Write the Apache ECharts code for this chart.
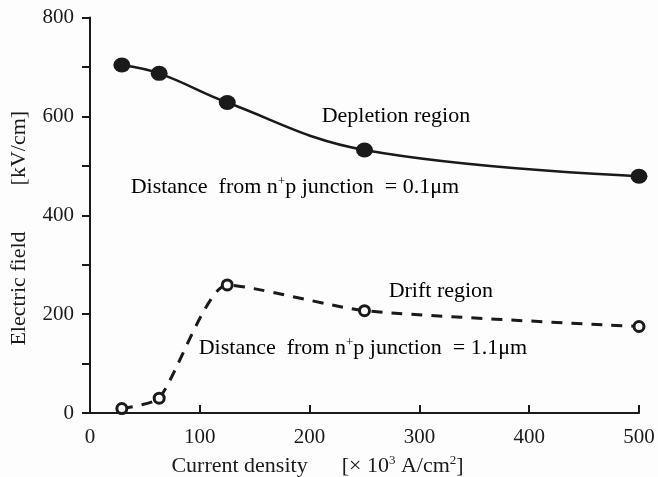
<!DOCTYPE html>
<html>
<head>
<meta charset="utf-8">
<script src="https://cdn.jsdelivr.net/npm/echarts@6/dist/echarts.min.js"></script>
<style>
html,body{margin:0;padding:0;background:#fdfdfd;}
#chart{width:658px;height:477px;}
</style>
</head>
<body>
<div id="chart"></div>
<script>
// Data
const currentDensity = [29, 63, 125, 250, 500];           // x values [×10^3 A/cm^2]
const depletionField = [704, 687, 628, 532, 479];          // kV/cm, distance 0.1 µm
const driftField = [9, 30, 259, 207, 175];                 // kV/cm, distance 1.1 µm
const xTicks = [0, 100, 200, 300, 400, 500];
const yTicks = [0, 200, 400, 600, 800];

const FONT = '"Liberation Serif", "Times New Roman", serif';
const INK = '#1a1a1a';

const chart = echarts.init(document.getElementById('chart'), null, {renderer: 'canvas'});

const supRich = {
  a: {fontFamily: FONT, fontSize: 22, color: INK, lineHeight: 26},
  s: {fontFamily: FONT, fontSize: 13, color: INK, verticalAlign: 'top', lineHeight: 26, padding: [1, 0, 0, 0]},
  g: {width: 34}
};
const yRich = {
  a: {fontFamily: FONT, fontSize: 22, color: INK, lineHeight: 26},
  g: {width: 46}
};

const option = {
  backgroundColor: '#fdfdfd',
  animation: false,
  grid: {left: 90, right: 19, top: 17.5, bottom: 64, containLabel: false, outerBoundsMode: 'none'},
  xAxis: {
    type: 'value',
    min: xTicks[0], max: xTicks[xTicks.length - 1], interval: 100,
    name: '{a|Current density}{g|}{a|[× 10}{s|3}{a| A/cm}{s|2}{a|]}',
    nameLocation: 'middle',
    nameGap: 40,
    nameTextStyle: {rich: supRich, padding: [0, 94, 0, 0]},
    axisLine: {lineStyle: {color: INK, width: 2}},
    axisTick: {inside: true, length: 8, lineStyle: {color: INK, width: 2}},
    axisLabel: {fontFamily: FONT, fontSize: 21, color: INK, margin: 14},
    splitLine: {show: false}
  },
  yAxis: {
    type: 'value',
    min: yTicks[0], max: yTicks[yTicks.length - 1], interval: 100,
    name: '{a|Electric field}{g|}{a|[kV/cm]}',
    nameLocation: 'middle',
    nameGap: 58,
    nameTextStyle: {rich: yRich, padding: [0, 26, 0, 0]},
    axisLine: {lineStyle: {color: INK, width: 2}},
    axisTick: {inside: false, length: 8, lineStyle: {color: INK, width: 2}},
    axisLabel: {
      fontFamily: FONT, fontSize: 21, color: INK, margin: 16,
      formatter: v => (yTicks.indexOf(v) >= 0 ? String(v) : '')
    },
    splitLine: {show: false}
  },
  series: [
    {
      name: 'Depletion region',
      type: 'line',
      data: currentDensity.map((x, i) => [x, depletionField[i]]),
      smooth: 0.4,
      symbol: 'circle',
      symbolSize: [17, 15],
      lineStyle: {color: INK, width: 2.5},
      itemStyle: {color: INK, borderColor: INK, borderWidth: 0},
      z: 3
    },
    {
      name: 'Drift region',
      type: 'line',
      data: currentDensity.map((x, i) => [x, driftField[i]]),
      smooth: 0.2,
      symbol: 'circle',
      symbolSize: 10,
      showAllSymbol: true,
      lineStyle: {color: INK, width: 3, type: [11, 9]},
      itemStyle: {color: '#fdfdfd', borderColor: INK, borderWidth: 3},
      z: 3
    }
  ],
  graphic: []
};

chart.setOption(option);

// Annotations, anchored in data coordinates
const annRich = {
  a: {fontFamily: FONT, fontSize: 22, color: INK, lineHeight: 26},
  s: {fontFamily: FONT, fontSize: 13, color: INK, verticalAlign: 'top', lineHeight: 26, padding: [1, 0, 0, 0]}
};
const annotations = [
  {at: [211, 601], text: '{a|Depletion region}'},
  {at: [37, 457], text: '{a|Distance  from n}{s|+}{a|p junction  = 0.1μm}'},
  {at: [272, 247], text: '{a|Drift region}'},
  {at: [99, 131], text: '{a|Distance  from n}{s|+}{a|p junction  = 1.1μm}'}
];
const graphics = annotations.map(a => {
  const p = chart.convertToPixel({gridIndex: 0}, a.at);
  return {
    type: 'text', x: p[0], y: p[1], z: 10,
    style: {text: a.text, rich: annRich, verticalAlign: 'middle', align: 'left'}
  };
});
chart.setOption({graphic: graphics});
</script>
</body>
</html>
